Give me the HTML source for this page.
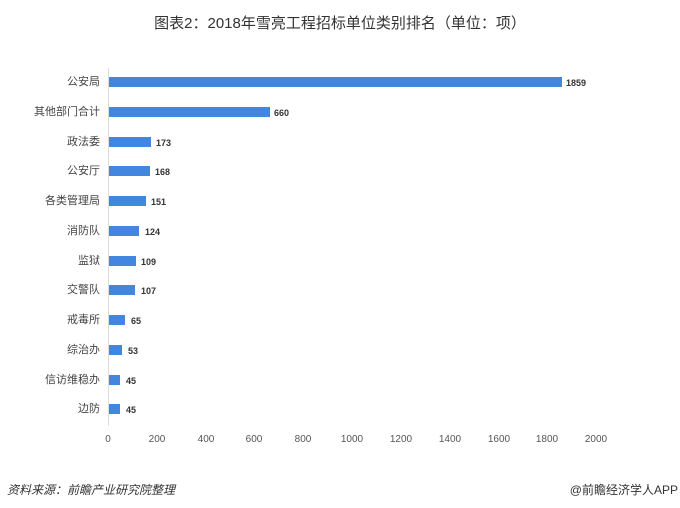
<!DOCTYPE html>
<html><head><meta charset="utf-8"><style>
body{margin:0;width:680px;height:508px;background:#fff;position:relative;overflow:hidden;font-family:"Liberation Sans","Noto Sans CJK SC",sans-serif;}
.t{position:absolute;white-space:nowrap;}
.lab{position:absolute;right:580px;font-size:11px;color:#444;white-space:nowrap;line-height:12px;}
.bar{position:absolute;left:109px;height:10px;background:#4286e0;}
.val{position:absolute;font-size:9px;color:#333;font-weight:bold;line-height:10px;}
.tick{position:absolute;top:434px;font-size:10px;color:#555;width:40px;text-align:center;}
</style></head><body>
<div class="t" style="left:0;width:680px;text-align:center;top:12px;font-size:15px;color:#333;">图表2：2018年雪亮工程招标单位类别排名（单位：项）</div>
<div style="position:absolute;left:108px;top:68px;width:1px;height:358px;background:#ddd;"></div>
<div class="lab" style="top:76px">公安局</div><div class="bar" style="top:77px;width:453px"></div><div class="val" style="top:78px;left:566px">1859</div>
<div class="lab" style="top:106px">其他部门合计</div><div class="bar" style="top:107px;width:161px"></div><div class="val" style="top:108px;left:274px">660</div>
<div class="lab" style="top:136px">政法委</div><div class="bar" style="top:137px;width:42px"></div><div class="val" style="top:138px;left:156px">173</div>
<div class="lab" style="top:165px">公安厅</div><div class="bar" style="top:166px;width:41px"></div><div class="val" style="top:167px;left:155px">168</div>
<div class="lab" style="top:195px">各类管理局</div><div class="bar" style="top:196px;width:37px"></div><div class="val" style="top:197px;left:151px">151</div>
<div class="lab" style="top:225px">消防队</div><div class="bar" style="top:226px;width:30px"></div><div class="val" style="top:227px;left:145px">124</div>
<div class="lab" style="top:255px">监狱</div><div class="bar" style="top:256px;width:27px"></div><div class="val" style="top:257px;left:141px">109</div>
<div class="lab" style="top:284px">交警队</div><div class="bar" style="top:285px;width:26px"></div><div class="val" style="top:286px;left:141px">107</div>
<div class="lab" style="top:314px">戒毒所</div><div class="bar" style="top:315px;width:16px"></div><div class="val" style="top:316px;left:131px">65</div>
<div class="lab" style="top:344px">综治办</div><div class="bar" style="top:345px;width:13px"></div><div class="val" style="top:346px;left:128px">53</div>
<div class="lab" style="top:374px">信访维稳办</div><div class="bar" style="top:375px;width:11px"></div><div class="val" style="top:376px;left:126px">45</div>
<div class="lab" style="top:403px">边防</div><div class="bar" style="top:404px;width:11px"></div><div class="val" style="top:405px;left:126px">45</div>
<div class="tick" style="left:88px">0</div>
<div class="tick" style="left:137px">200</div>
<div class="tick" style="left:186px">400</div>
<div class="tick" style="left:234px">600</div>
<div class="tick" style="left:283px">800</div>
<div class="tick" style="left:332px">1000</div>
<div class="tick" style="left:381px">1200</div>
<div class="tick" style="left:430px">1400</div>
<div class="tick" style="left:479px">1600</div>
<div class="tick" style="left:527px">1800</div>
<div class="tick" style="left:576px">2000</div>
<div class="t" style="left:7px;top:481px;font-size:12px;font-style:italic;color:#333;">资料来源：前瞻产业研究院整理</div>
<div class="t" style="right:2px;top:481px;font-size:12px;color:#333;">@前瞻经济学人APP</div>
</body></html>
